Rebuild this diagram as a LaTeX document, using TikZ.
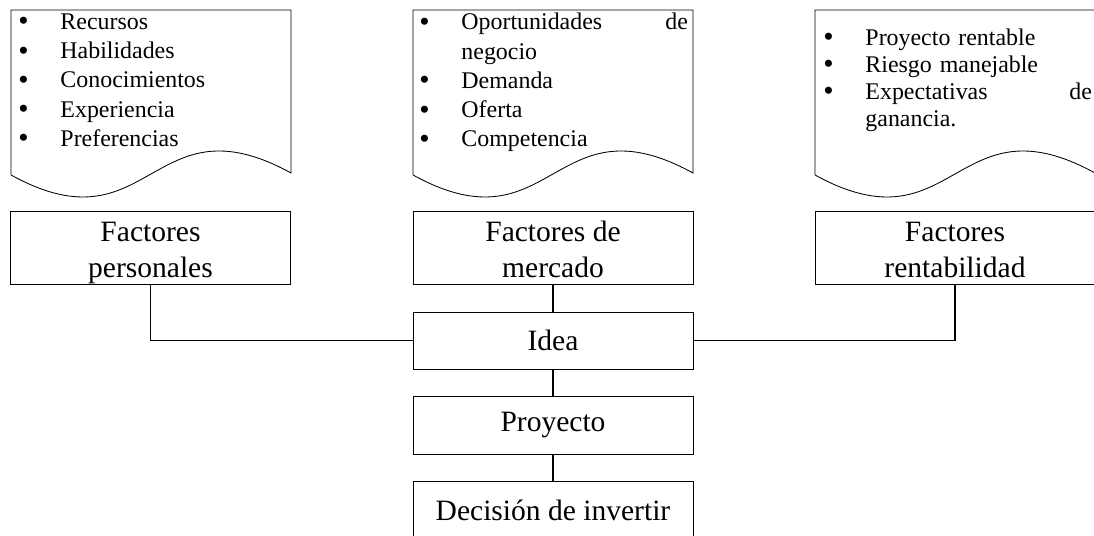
\documentclass[tikz,border=0pt]{standalone}
\usepackage{fontspec}
\setmainfont{Liberation Serif}
\newcommand{\bul}{\makebox[30pt][l]{\raisebox{-1pt}{\fontsize{21}{21}\selectfont\textbullet}}}
\newcommand{\ind}{\hspace*{30pt}}
\newcommand{\topstrut}{\rule{0pt}{1em}}
\tikzset{
  docline/.style={line width=0.6pt},
  listtext/.style={anchor=north west,inner sep=0pt,text width=191pt,align=left,font=\fontsize{17}{20.8}\selectfont},
  factorbox/.style={draw,line width=0.6pt,minimum width=7cm,minimum height=1.8cm,inner sep=0pt,align=center,font=\fontsize{21}{25.6}\selectfont,execute at end node={\rule[-0.25em]{0pt}{0pt}}},
  stepbox/.style={draw,line width=0.6pt,minimum width=7cm,inner sep=0pt,font=\fontsize{21}{25.6}\selectfont},
  conn/.style={line width=0.8pt}
}
\begin{document}
\begin{tikzpicture}[x=0.025cm,y=-0.025cm]
\useasboundingbox (0,0) rectangle (1094,536);
\foreach \L in {11,413,815}
  \draw[docline] (\L,175) -- (\L,10) -- (\L+280,10) -- (\L+280,173) .. controls (\L+140,96) and (\L+140,252) .. (\L,175);
\node[listtext] (listPers) at (18,13.5) {\bul Recursos\\ \bul Habilidades\\ \bul Conocimientos\\ \bul Experiencia\\ \bul Preferencias};
\node[listtext] (listMerc) at (419,13) {\bul Oportunidades \hfill de\\ \ind negocio\\ \bul Demanda\\ \bul Oferta\\ \bul Competencia};
\node[listtext,font=\fontsize{17}{19.1}\selectfont] (listRent) at (823,28.7) {\bul Proyecto rentable\\ \bul Riesgo manejable\\ \bul Expectativas \hfill de\\ \ind ganancia.};
\node[factorbox] (fPers) at (150.5,248) {\topstrut Factores\\personales};
\node[factorbox] (fMerc) at (553,248) {\topstrut Factores de\\mercado};
\node[factorbox] (fRent) at (955,248) {\topstrut Factores\\rentabilidad};
\node[stepbox,minimum height=1.425cm] (idea) at (553,340.5) {Idea};
\node[stepbox,minimum height=1.45cm] (proy) at (553,425) {Proyecto};
\node[stepbox,minimum height=1.45cm] (decision) at (553,510) {Decisión de invertir};
\draw[conn] (fPers.south) |- (idea.west);
\draw[conn] (fRent.south) |- (idea.east);
\draw[conn] (fMerc) -- (idea);
\draw[conn] (idea) -- (proy);
\draw[conn] (proy) -- (decision);
\end{tikzpicture}
\end{document}
